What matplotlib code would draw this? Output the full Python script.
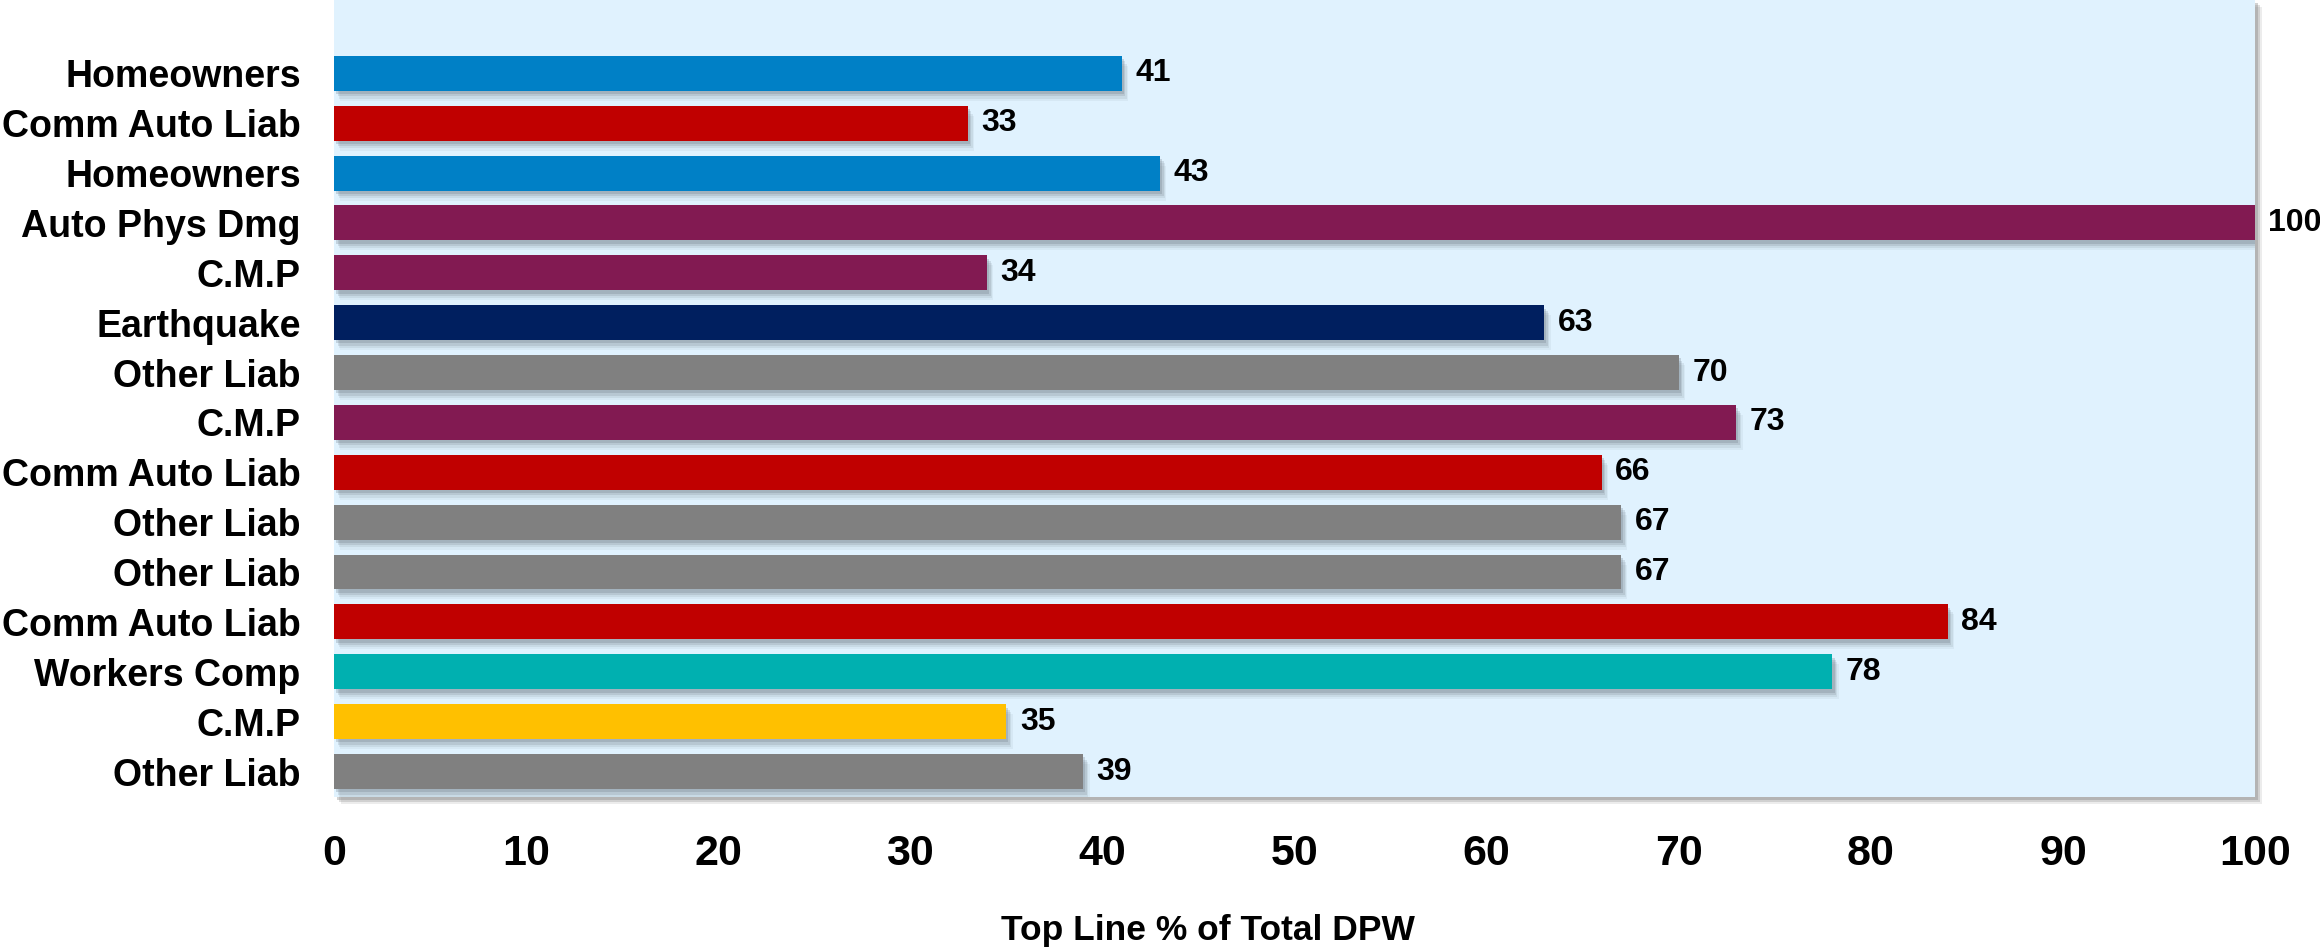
import matplotlib
matplotlib.use('Agg')
import matplotlib.pyplot as plt
import matplotlib.patheffects as pe
import numpy as np

plt.rcParams['font.family'] = ['Liberation Sans', 'DejaVu Sans']
plt.rcParams['font.weight'] = 'bold'

# listed top to bottom as in the chart
labels = ['Homeowners', 'Comm Auto Liab', 'Homeowners', 'Auto Phys Dmg', 'C.M.P',
          'Earthquake', 'Other Liab', 'C.M.P', 'Comm Auto Liab', 'Other Liab',
          'Other Liab', 'Comm Auto Liab', 'Workers Comp', 'C.M.P', 'Other Liab']
values = [41, 33, 43, 100, 34, 63, 70, 73, 66, 67, 67, 84, 78, 35, 39]
colors = ['#0080C6', '#C00000', '#0080C6', '#821A52', '#821A52',
          '#001F5F', '#808080', '#821A52', '#C00000', '#808080',
          '#808080', '#C00000', '#00B0B0', '#FFC000', '#808080']
xticks = [0, 10, 20, 30, 40, 50, 60, 70, 80, 90, 100]

fig = plt.figure(figsize=(23.2, 9.51), dpi=100)
ax = fig.add_axes([0.144, 0.162, 0.828, 0.838])

y = np.arange(len(values))[::-1]

# soft drop shadow, faked with a few stacked offset copies
shadow = [pe.SimplePatchShadow(offset=(o, -o * 1.6), shadow_rgbFace='#6a7680', alpha=a)
          for o, a in [(4.5, 0.08), (3.5, 0.12), (2.5, 0.18), (1.5, 0.25)]] + [pe.Normal()]

bars = ax.barh(y, values, height=0.7, color=colors, zorder=3)
for b in bars:
    b.set_path_effects(shadow)

for yi, v in zip(y, values):
    ax.text(v + 0.7, yi, str(v), va='center', ha='left', fontsize=23, fontweight='bold', zorder=4)

ax.set_xlim(0, 100)
ax.set_ylim(-0.51, 15.47)
ax.set_facecolor('#E0F2FE')
ax.patch.set_path_effects([pe.SimplePatchShadow(offset=(o, -o), shadow_rgbFace='#808080', alpha=a)
                           for o, a in [(5, 0.15), (3.5, 0.25), (2, 0.35)]] + [pe.Normal()])
for s in ax.spines.values():
    s.set_visible(False)

ax.set_yticks(y)
ax.set_yticklabels(labels, fontsize=27, fontweight='bold')
ax.set_xticks(xticks)
ax.set_xticklabels([str(t) for t in xticks], fontsize=31, fontweight='bold')
ax.tick_params(axis='y', length=0, pad=24)
ax.tick_params(axis='x', length=0, pad=27)
ax.set_xlabel('Top Line % of Total DPW', fontsize=25.5, fontweight='bold')
ax.xaxis.set_label_coords(0.455, -0.168)
ax.xaxis.label.set_va('center')

fig.savefig('out.png', dpi=100)
